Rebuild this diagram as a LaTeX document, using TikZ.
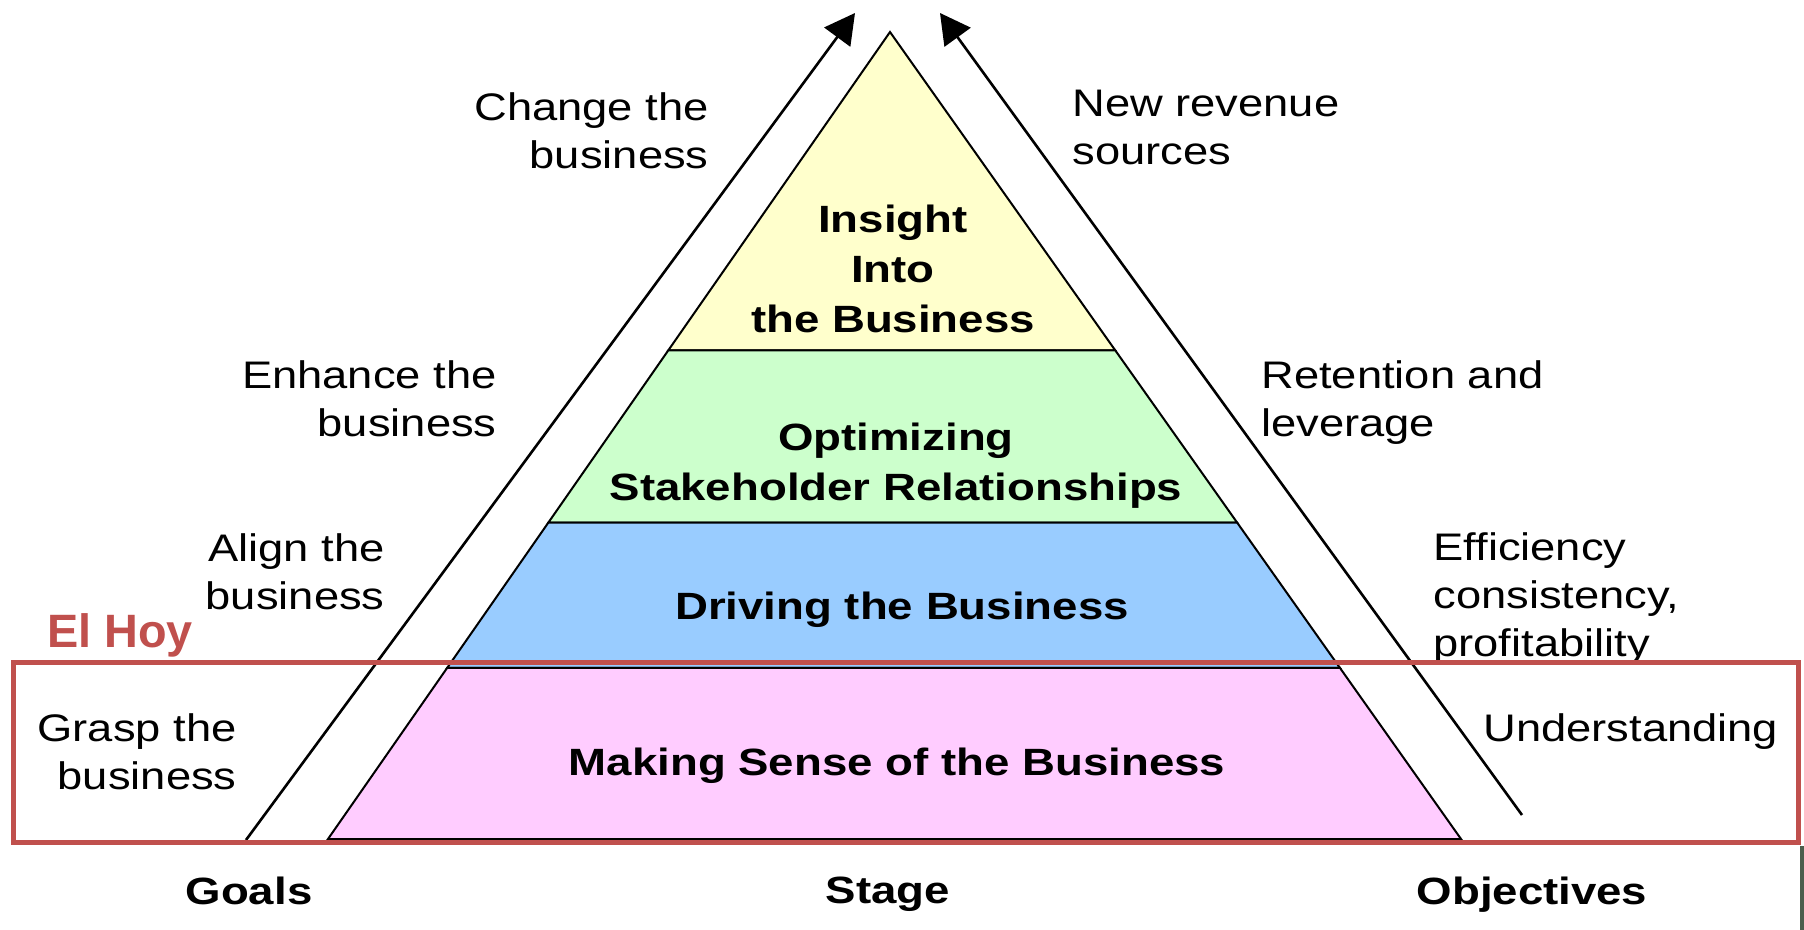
\documentclass[tikz,border=0pt]{standalone}
\usepackage{fontspec}
\setmainfont{Liberation Sans}[FakeStretch=1.18,BoldFeatures={FakeStretch=1.2}]
\newfontfamily\hoyfont{Liberation Sans}
\usetikzlibrary{calc}
\usetikzlibrary{arrows.meta}

\definecolor{insightfill}{HTML}{FFFFCC}
\definecolor{optimfill}{HTML}{CCFFCC}
\definecolor{drivingfill}{HTML}{99CCFF}
\definecolor{makingfill}{HTML}{FFCCFF}
\definecolor{hoyrojo}{HTML}{C0504D}
\definecolor{franja}{HTML}{4B5E4C}

\tikzset{
	lado/.style={inner sep=0pt,font=\fontsize{19.2}{24}\selectfont},
	etapa/.style={inner sep=0pt,align=center,font=\bfseries\fontsize{19}{25}\selectfont},
	flecha/.style={line width=1.3pt,-{Triangle[length=15pt,width=16pt]}},
}

\begin{document}
\begin{tikzpicture}[x=0.5pt,y=-0.5pt]
	\useasboundingbox (0,0) rectangle (1804,930);
	% piramide: cima y base, los niveles salen de ahi
	\coordinate (cima) at (890,32);
	\coordinate (baseI) at (328,839);
	\coordinate (baseD) at (1461,839);
	\coordinate (n1i) at ($(cima)!.3945!(baseI)$);
	\coordinate (n1d) at ($(cima)!.3945!(baseD)$);
	\coordinate (n2i) at ($(cima)!.6079!(baseI)$);
	\coordinate (n2d) at ($(cima)!.6079!(baseD)$);
	\coordinate (n3i) at ($(cima)!.7878!(baseI)$);
	\coordinate (n3d) at ($(cima)!.7878!(baseD)$);
	\filldraw[line width=1pt,fill=insightfill] (cima) -- (n1i) -- (n1d) -- cycle;
	\filldraw[line width=1pt,fill=optimfill] (n1i) -- (n2i) -- (n2d) -- (n1d) -- cycle;
	\filldraw[line width=1pt,fill=drivingfill] (n2i) -- (n3i) -- (n3d) -- (n2d) -- cycle;
	\filldraw[line width=1pt,fill=makingfill] (n3i) -- (baseI) -- (baseD) -- (n3d) -- cycle;

	% flechas de los costados
	\coordinate (metasIni) at (246,840);
	\coordinate (metasFin) at (855,13);
	\coordinate (objIni) at (1522,815);
	\coordinate (objFin) at (940,13);
	\draw[flecha] (metasIni) -- (metasFin);
	\draw[flecha] (objIni) -- (objFin);

	\node[etapa,anchor=north] (insight) at (893,205) {Insight\\Into\\the Business};
	\node[etapa,anchor=north] (optim) at (896,423) {Optimizing\\Stakeholder Relationships};
	\node[etapa,anchor=north] (driving) at (902,592) {Driving the Business};
	\node[etapa,anchor=north] (making) at (897,748) {Making Sense of the Business};

	\node[lado,align=right,anchor=north east] (cambio) at (709,92) {Change the\\business};
	\node[lado,align=left,anchor=north west] (ingresos) at (1072,90) {New revenue\\sources};
	\node[lado,align=right,anchor=north east] (mejora) at (497,360) {Enhance the\\business};
	\node[lado,align=left,anchor=north west] (retencion) at (1261,360) {Retention and\\leverage};
	\node[lado,align=right,anchor=north east] (alinea) at (385,533) {Align the\\business};
	\node[lado,align=left,anchor=north west] (eficiencia) at (1433,532) {Efficiency\\consistency,\\profitability};
	\node[lado,align=right,anchor=north east] (capta) at (237,713) {Grasp the\\business};
	\node[lado,anchor=north west] (entender) at (1483,713) {Understanding};

	\node[etapa,anchor=north] (goals) at (249,877) {Goals};
	\node[etapa,anchor=north] (stage) at (888,877) {Stage};
	\node[etapa,anchor=north] (objectives) at (1532,877) {Objectives};

	% el hoy
	\draw[hoyrojo,line width=2.5pt] (13,662) rectangle (1798,842);
	\node[inner sep=0pt,anchor=north west,text=hoyrojo,font=\hoyfont\bfseries\fontsize{23.4}{28}\selectfont] (elhoy) at (47,613) {El Hoy};
	\fill[franja] (1800,846) rectangle (1804,930);
\end{tikzpicture}
\end{document}
